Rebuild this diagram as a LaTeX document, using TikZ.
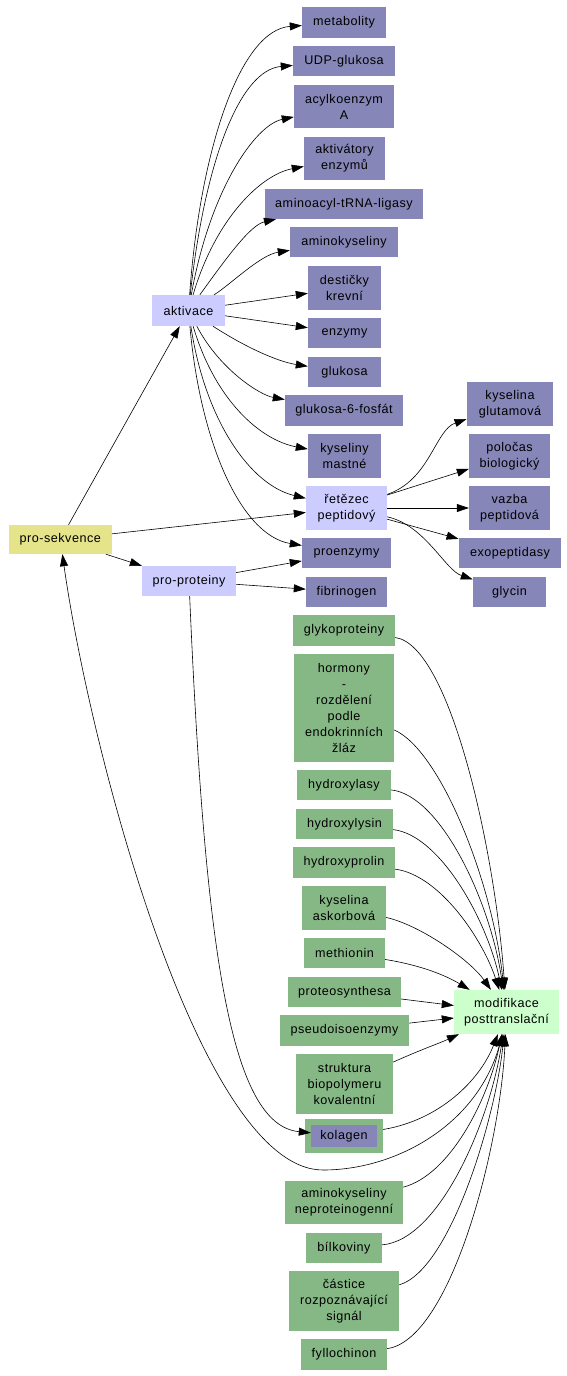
\documentclass[tikz,border=0pt]{standalone}
\usepackage{fontspec}
\setmainfont[LetterSpace=4]{Liberation Sans}
\usetikzlibrary{arrows.meta}
\definecolor{cp}{HTML}{8686B8}
\definecolor{cl}{HTML}{CCCCFF}
\definecolor{cy}{HTML}{E6E48A}
\definecolor{cg}{HTML}{86B886}
\definecolor{cm}{HTML}{CCFFCC}
\begin{document}
\begin{tikzpicture}[x=1pt,y=-1pt,
 bx/.style={inner sep=0pt, align=center, font=\fontsize{12.6}{16}\selectfont, text=black},
 pb/.style={bx, fill=cp},
 lb/.style={bx, fill=cl},
 gb/.style={bx, fill=cg},
 e/.style={-{Triangle[length=12pt,width=8pt]}, line width=0.6pt},
 en/.style={line width=0.6pt}]
\useasboundingbox (0,0) rectangle (567,1376);
% purple / lavender nodes
\node[pb, minimum width=84pt, minimum height=31pt] (met) at (344,22.5) {metabolity};
\node[pb, minimum width=102pt, minimum height=30pt] (udp) at (344,61) {UDP-glukosa};
\node[pb, minimum width=100pt, minimum height=43pt] (acyl) at (344,106.5) {acylkoenzym\\A};
\node[pb, minimum width=81pt, minimum height=43pt] (aktv) at (344.5,158.5) {aktivátory\\enzymů};
\node[pb, minimum width=158pt, minimum height=30pt] (amtr) at (344,204) {aminoacyl-tRNA-ligasy};
\node[pb, minimum width=108pt, minimum height=30pt] (amk) at (344,242) {aminokyseliny};
\node[pb, minimum width=73pt, minimum height=44pt] (des) at (344.5,288) {destičky\\krevní};
\node[pb, minimum width=73pt, minimum height=30pt] (enz) at (344.5,333) {enzymy};
\node[pb, minimum width=73pt, minimum height=30pt] (glu) at (344.5,372) {glukosa};
\node[pb, minimum width=118pt, minimum height=31pt] (g6f) at (344,410.5) {glukosa-6-fosfát};
\node[pb, minimum width=73pt, minimum height=44pt] (kym) at (344.5,456) {kyseliny\\mastné};
\node[lb, minimum width=81pt, minimum height=44pt] (ret) at (346.5,508) {řetězec\\peptidový};
\node[pb, minimum width=86.5pt, minimum height=44pt] (kg) at (510,404) {kyselina\\glutamová};
\node[pb, minimum width=81pt, minimum height=44pt] (pol) at (509.5,456) {poločas\\biologický};
\node[pb, minimum width=81pt, minimum height=44pt] (vaz) at (509.5,508) {vazba\\peptidová};
\node[pb, minimum width=102.5pt, minimum height=30pt] (exo) at (510,553) {exopeptidasy};
\node[pb, minimum width=73pt, minimum height=30pt] (gly) at (509.5,592) {glycin};
\node[pb, minimum width=89pt, minimum height=30pt] (pro) at (346.5,553) {proenzymy};
\node[pb, minimum width=81pt, minimum height=30pt] (fib) at (346.5,592) {fibrinogen};
\node[bx, fill=cy, minimum width=102.6pt, minimum height=29pt] (ps) at (60.3,539.5) {pro-sekvence};
\node[lb, minimum width=94pt, minimum height=30pt] (pp) at (189,581) {pro-proteiny};
\node[lb, minimum width=73pt, minimum height=31pt] (akt) at (188.5,310.5) {aktivace};
% green nodes
\node[gb, minimum width=102pt, minimum height=31pt] (gp) at (344,630.5) {glykoproteiny};
\node[gb, minimum width=100pt, minimum height=108pt] (hor) at (344,708) {hormony\\-\\rozdělení\\podle\\endokrinních\\žláz};
\node[gb, minimum width=94pt, minimum height=30pt] (hla) at (344,785) {hydroxylasy};
\node[gb, minimum width=97pt, minimum height=30pt] (hly) at (344.5,824) {hydroxylysin};
\node[gb, minimum width=102pt, minimum height=31pt] (hpr) at (344,862.5) {hydroxyprolin};
\node[gb, minimum width=84pt, minimum height=44pt] (ask) at (344,908) {kyselina\\askorbová};
\node[gb, minimum width=81pt, minimum height=30pt] (mth) at (344.5,953) {methionin};
\node[gb, minimum width=113pt, minimum height=30pt] (prs) at (344.5,992) {proteosynthesa};
\node[gb, minimum width=129pt, minimum height=31pt] (pse) at (344.5,1030.5) {pseudoisoenzymy};
\node[bx, fill=cm, minimum width=105pt, minimum height=44pt] (mod) at (506.5,1012) {modifikace\\posttranslační};
\node[gb, minimum width=97pt, minimum height=60pt] (str) at (344.5,1084) {struktura\\biopolymeru\\kovalentní};
\node[gb, minimum width=78pt, minimum height=34pt] (kolc) at (344,1136) {};
\node[pb, minimum width=66pt, minimum height=22pt] (kol) at (344,1136) {kolagen};
\node[gb, minimum width=118pt, minimum height=43pt] (ane) at (344,1202.5) {aminokyseliny\\neproteinogenní};
\node[gb, minimum width=76pt, minimum height=30pt] (bil) at (344,1248) {bílkoviny};
\node[gb, minimum width=110pt, minimum height=60pt] (cas) at (344,1301) {částice\\rozpoznávající\\signál};
\node[gb, minimum width=86pt, minimum height=31pt] (fyl) at (344,1354.5) {fyllochinon};
% pro-sekvence edges
\draw[e] (ps) -- (akt);
\draw[e] (ps) -- (ret);
\draw[e] (ps) -- (pp);
% aktivace edges
\draw[e] (akt) .. controls (200,150) and (240,30) .. (met);
\draw[e] (akt) .. controls (205,160) and (240,70) .. (udp);
\draw[e] (akt) .. controls (210,190) and (255,125) .. (acyl);
\draw[e] (akt) .. controls (215,220) and (260,175) .. (aktv);
\draw[e] (akt) .. controls (225,260) and (250,225) .. (amtr);
\draw[e] (akt) .. controls (230,285) and (260,255) .. (amk);
\draw[e] (akt) -- (des);
\draw[e] (akt) -- (enz);
\draw[e] (akt) .. controls (250,350) and (280,362) .. (glu);
\draw[e] (akt) .. controls (220,370) and (260,395) .. (g6f);
\draw[e] (akt) .. controls (215,400) and (260,440) .. (kym);
\draw[e] (akt) .. controls (205,420) and (250,485) .. (ret);
\draw[e] (akt) .. controls (200,440) and (240,535) .. (pro);
% retezec edges
\draw[e] (ret) .. controls (430,480) and (435,430) .. (kg);
\draw[e] (ret) -- (pol);
\draw[e] (ret) -- (vaz);
\draw[e] (ret) -- (exo);
\draw[e] (ret) .. controls (425,525) and (445,570) .. (gly);
% pro-proteiny edges
\draw[e] (pp) -- (pro);
\draw[e] (pp) -- (fib);
\draw[e] (pp) .. controls (205,950) and (230,1125) .. (kol);
% edges into modifikace
\draw[e] (gp) .. controls (450,645) and (495,850) .. (mod);
\draw[e] (hor) .. controls (440,750) and (492,880) .. (mod);
\draw[e] (hla) .. controls (440,795) and (490,900) .. (mod);
\draw[e] (hly) .. controls (440,835) and (487,920) .. (mod);
\draw[e] (hpr) .. controls (440,875) and (483,940) .. (mod);
\draw[e] (ask) .. controls (420,925) and (470,960) .. (mod);
\draw[e] (mth) .. controls (420,965) and (445,975) .. (mod);
\draw[e] (prs) -- (mod);
\draw[e] (pse) -- (mod);
\draw[e] (str) .. controls (420,1050) and (440,1043) .. (mod);
\draw[e] (kolc) .. controls (440,1120) and (480,1080) .. (mod);
\draw[e] (ane) .. controls (450,1175) and (488,1100) .. (mod);
\draw[e] (bil) .. controls (440,1240) and (490,1120) .. (mod);
\draw[e] (cas) .. controls (450,1270) and (495,1120) .. (mod);
\draw[e] (fyl) .. controls (450,1340) and (500,1150) .. (mod);
% modifikace back to pro-sekvence
\coordinate (lowpt) at (323,1170);
\draw[e] (mod) .. controls (485,1120) and (400,1170) .. (lowpt) .. controls (200,1170) and (90,750) .. (ps);
\end{tikzpicture}
\end{document}
